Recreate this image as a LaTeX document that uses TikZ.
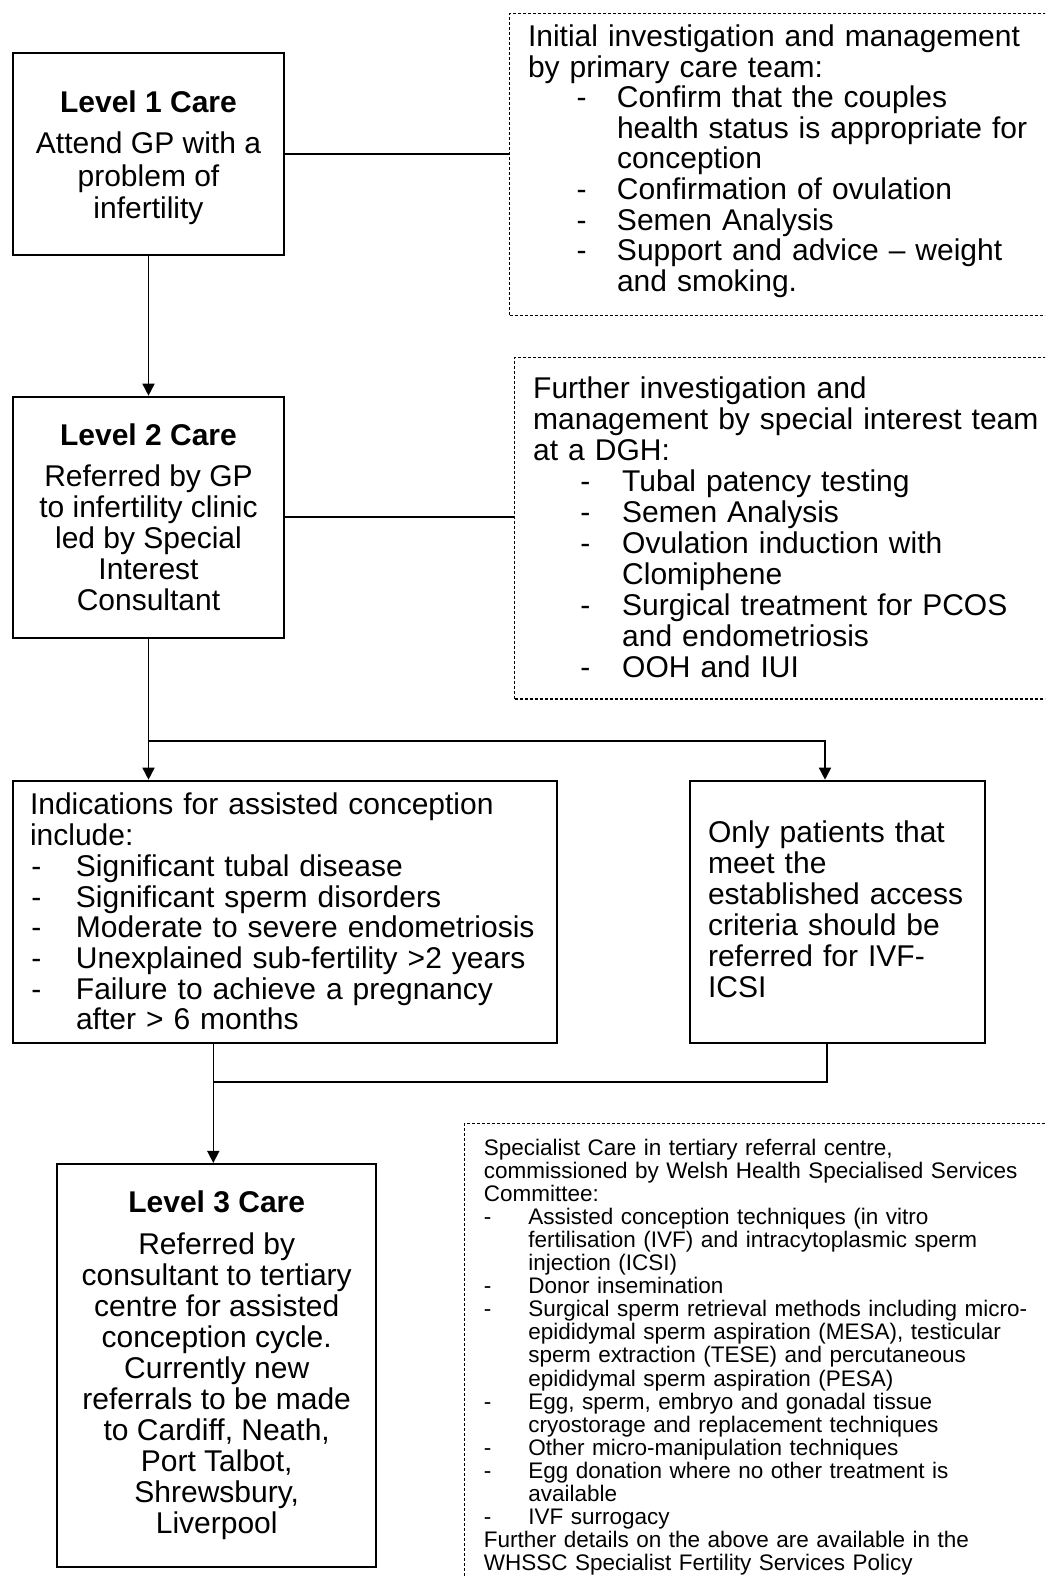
\documentclass[tikz,border=0pt]{standalone}
\usepackage{fontspec}
\setmainfont{Liberation Sans}
\usepackage{tikz}
\usetikzlibrary{arrows.meta}

\newlength{\dashat}
\newlength{\itemat}
\newcommand{\bulletdash}[1]{\hspace*{\dashat}\makebox[\dimexpr\itemat-\dashat\relax][l]{-}#1}
\newcommand{\bulletcont}[1]{\hspace*{\itemat}#1}

\begin{document}
\begin{tikzpicture}[x=1pt,y=-1pt,
  carebox/.style={draw,line width=2pt,align=center,inner sep=0pt,font=\fontsize{30}{31}\selectfont},
  careinfo/.style={draw,line width=2pt,align=left,inner ysep=0pt},
  teamnote/.style={draw,line width=1.2pt,dash pattern=on 3pt off 2pt,anchor=north west,inner sep=0pt},
  notetext/.style={anchor=base west,inner sep=0pt,align=left},
  conn/.style={line width=1.6pt},
  arr/.style={conn,-{Triangle[width=12pt,length=12pt]}}]
 \useasboundingbox (0,0) rectangle (1045,1578);
 \clip (0,0) rectangle (1045,1578);

 \node[carebox,minimum width=271.6pt,minimum height=202.3pt] (lvlone) at (148.5,153.8)
   {\rule{0pt}{29.5pt}{\bfseries Level 1 Care}\\[10.6pt] Attend GP with a\\[1.5pt] problem of\\[1.5pt] infertility};
 \node[carebox,minimum width=271.6pt,minimum height=241pt] (lvltwo) at (148.5,517.2)
   {{\bfseries Level 2 Care}\\[10.5pt] Referred by GP\\ to infertility clinic\\ led by Special\\ Interest\\ Consultant};
 \node[carebox,minimum width=318.7pt,minimum height=402.7pt] (lvlthree) at (216.7,1365.3)
   {{\bfseries Level 3 Care}\\[10.5pt] Referred by\\ consultant to tertiary\\ centre for assisted\\ conception cycle.\\ Currently new\\ referrals to be made\\ to Cardiff, Neath,\\ Port Talbot,\\ Shrewsbury,\\ Liverpool};

 \node[careinfo,minimum width=543.4pt,minimum height=262pt,text width=510pt,inner xsep=16.7pt,
   font=\fontsize{30}{30.7}\selectfont\setlength{\dashat}{1.5pt}\setlength{\itemat}{46pt}] (indic) at (285,911.7)
   {Indications for assisted conception\\
    include:\\
    \bulletdash{Significant tubal disease}\\
    \bulletdash{Significant sperm disorders}\\
    \bulletdash{Moderate to severe endometriosis}\\
    \bulletdash{Unexplained sub-fertility >2 years}\\
    \bulletdash{Failure to achieve a pregnancy}\\
    \bulletcont{after > 6 months}};
 \node[careinfo,minimum width=295.3pt,minimum height=262pt,text width=259.3pt,inner xsep=18pt,
   font=\fontsize{30}{31}\selectfont] (onlyivf) at (837.7,911.7)
   {Only patients that\\ meet the\\ established access\\ criteria should be\\ referred for IVF-\\ ICSI\rule[-5pt]{0pt}{1pt}};

 \node[teamnote,minimum width=600pt,minimum height=301.7pt] (primbox) at (509,13.3) {};
 \node[teamnote,minimum width=600pt,minimum height=341.6pt] (dghbox) at (513.9,356.7) {};
 \node[teamnote,minimum width=650pt,minimum height=500pt] (whsscbox) at (464,1122.7) {};

 \node[notetext,text width=530pt,
   font=\fontsize{30}{30.6}\selectfont\setlength{\dashat}{48.7pt}\setlength{\itemat}{89pt}] (primtxt) at (527.8,46.6)
   {Initial investigation and management\\
    by primary care team:\\
    \bulletdash{Confirm that the couples}\\
    \bulletcont{health status is appropriate for}\\
    \bulletcont{conception}\\
    \bulletdash{Confirmation of ovulation}\\
    \bulletdash{Semen Analysis}\\
    \bulletdash{Support and advice -- weight}\\
    \bulletcont{and smoking.}};
 \node[notetext,text width=530pt,
   font=\fontsize{30}{31.1}\selectfont\setlength{\dashat}{47.2pt}\setlength{\itemat}{89pt}] (dghtxt) at (533,398)
   {Further investigation and\\
    management by special interest team\\
    at a DGH:\\
    \bulletdash{Tubal patency testing}\\
    \bulletdash{Semen Analysis}\\
    \bulletdash{Ovulation induction with}\\
    \bulletcont{Clomiphene}\\
    \bulletdash{Surgical treatment for PCOS}\\
    \bulletcont{and endometriosis}\\
    \bulletdash{OOH and IUI}};
 \node[notetext,text width=570pt,
   font=\fontsize{22.5}{23.1}\selectfont\setlength{\dashat}{0pt}\setlength{\itemat}{44.5pt}] (whssctxt) at (483.6,1155)
   {Specialist Care in tertiary referral centre,\\
    commissioned by Welsh Health Specialised Services\\
    Committee:\\
    \bulletdash{Assisted conception techniques (in vitro}\\
    \bulletcont{fertilisation (IVF) and intracytoplasmic sperm}\\
    \bulletcont{injection (ICSI)}\\
    \bulletdash{Donor insemination}\\
    \bulletdash{Surgical sperm retrieval methods including micro-}\\
    \bulletcont{epididymal sperm aspiration (MESA), testicular}\\
    \bulletcont{sperm extraction (TESE) and percutaneous}\\
    \bulletcont{epididymal sperm aspiration (PESA)}\\
    \bulletdash{Egg, sperm, embryo and gonadal tissue}\\
    \bulletcont{cryostorage and replacement techniques}\\
    \bulletdash{Other micro-manipulation techniques}\\
    \bulletdash{Egg donation where no other treatment is}\\
    \bulletcont{available}\\
    \bulletdash{IVF surrogacy}\\
    Further details on the above are available in the\\
    WHSSC Specialist Fertility Services Policy};

 \coordinate (split) at (148,740.7);
 \coordinate (join) at (213.3,1081.7);

 \draw[conn] (lvlone.east) -- (lvlone.east -| primbox.west);
 \draw[conn] (lvltwo.east) -- (lvltwo.east -| dghbox.west);
 \draw[arr] (lvlone.south) -- (lvltwo.north);
 \draw[arr] (lvltwo.south) -- (lvltwo.south |- indic.north);
 \draw[arr] (split) -| ([xshift=-12.7pt]onlyivf.north);
 \draw[conn] (join |- indic.south) -- (join);
 \draw[conn] ([xshift=-11pt]onlyivf.south) |- (join);
 \draw[arr] (join) -- (join |- lvlthree.north);
\end{tikzpicture}
\end{document}
